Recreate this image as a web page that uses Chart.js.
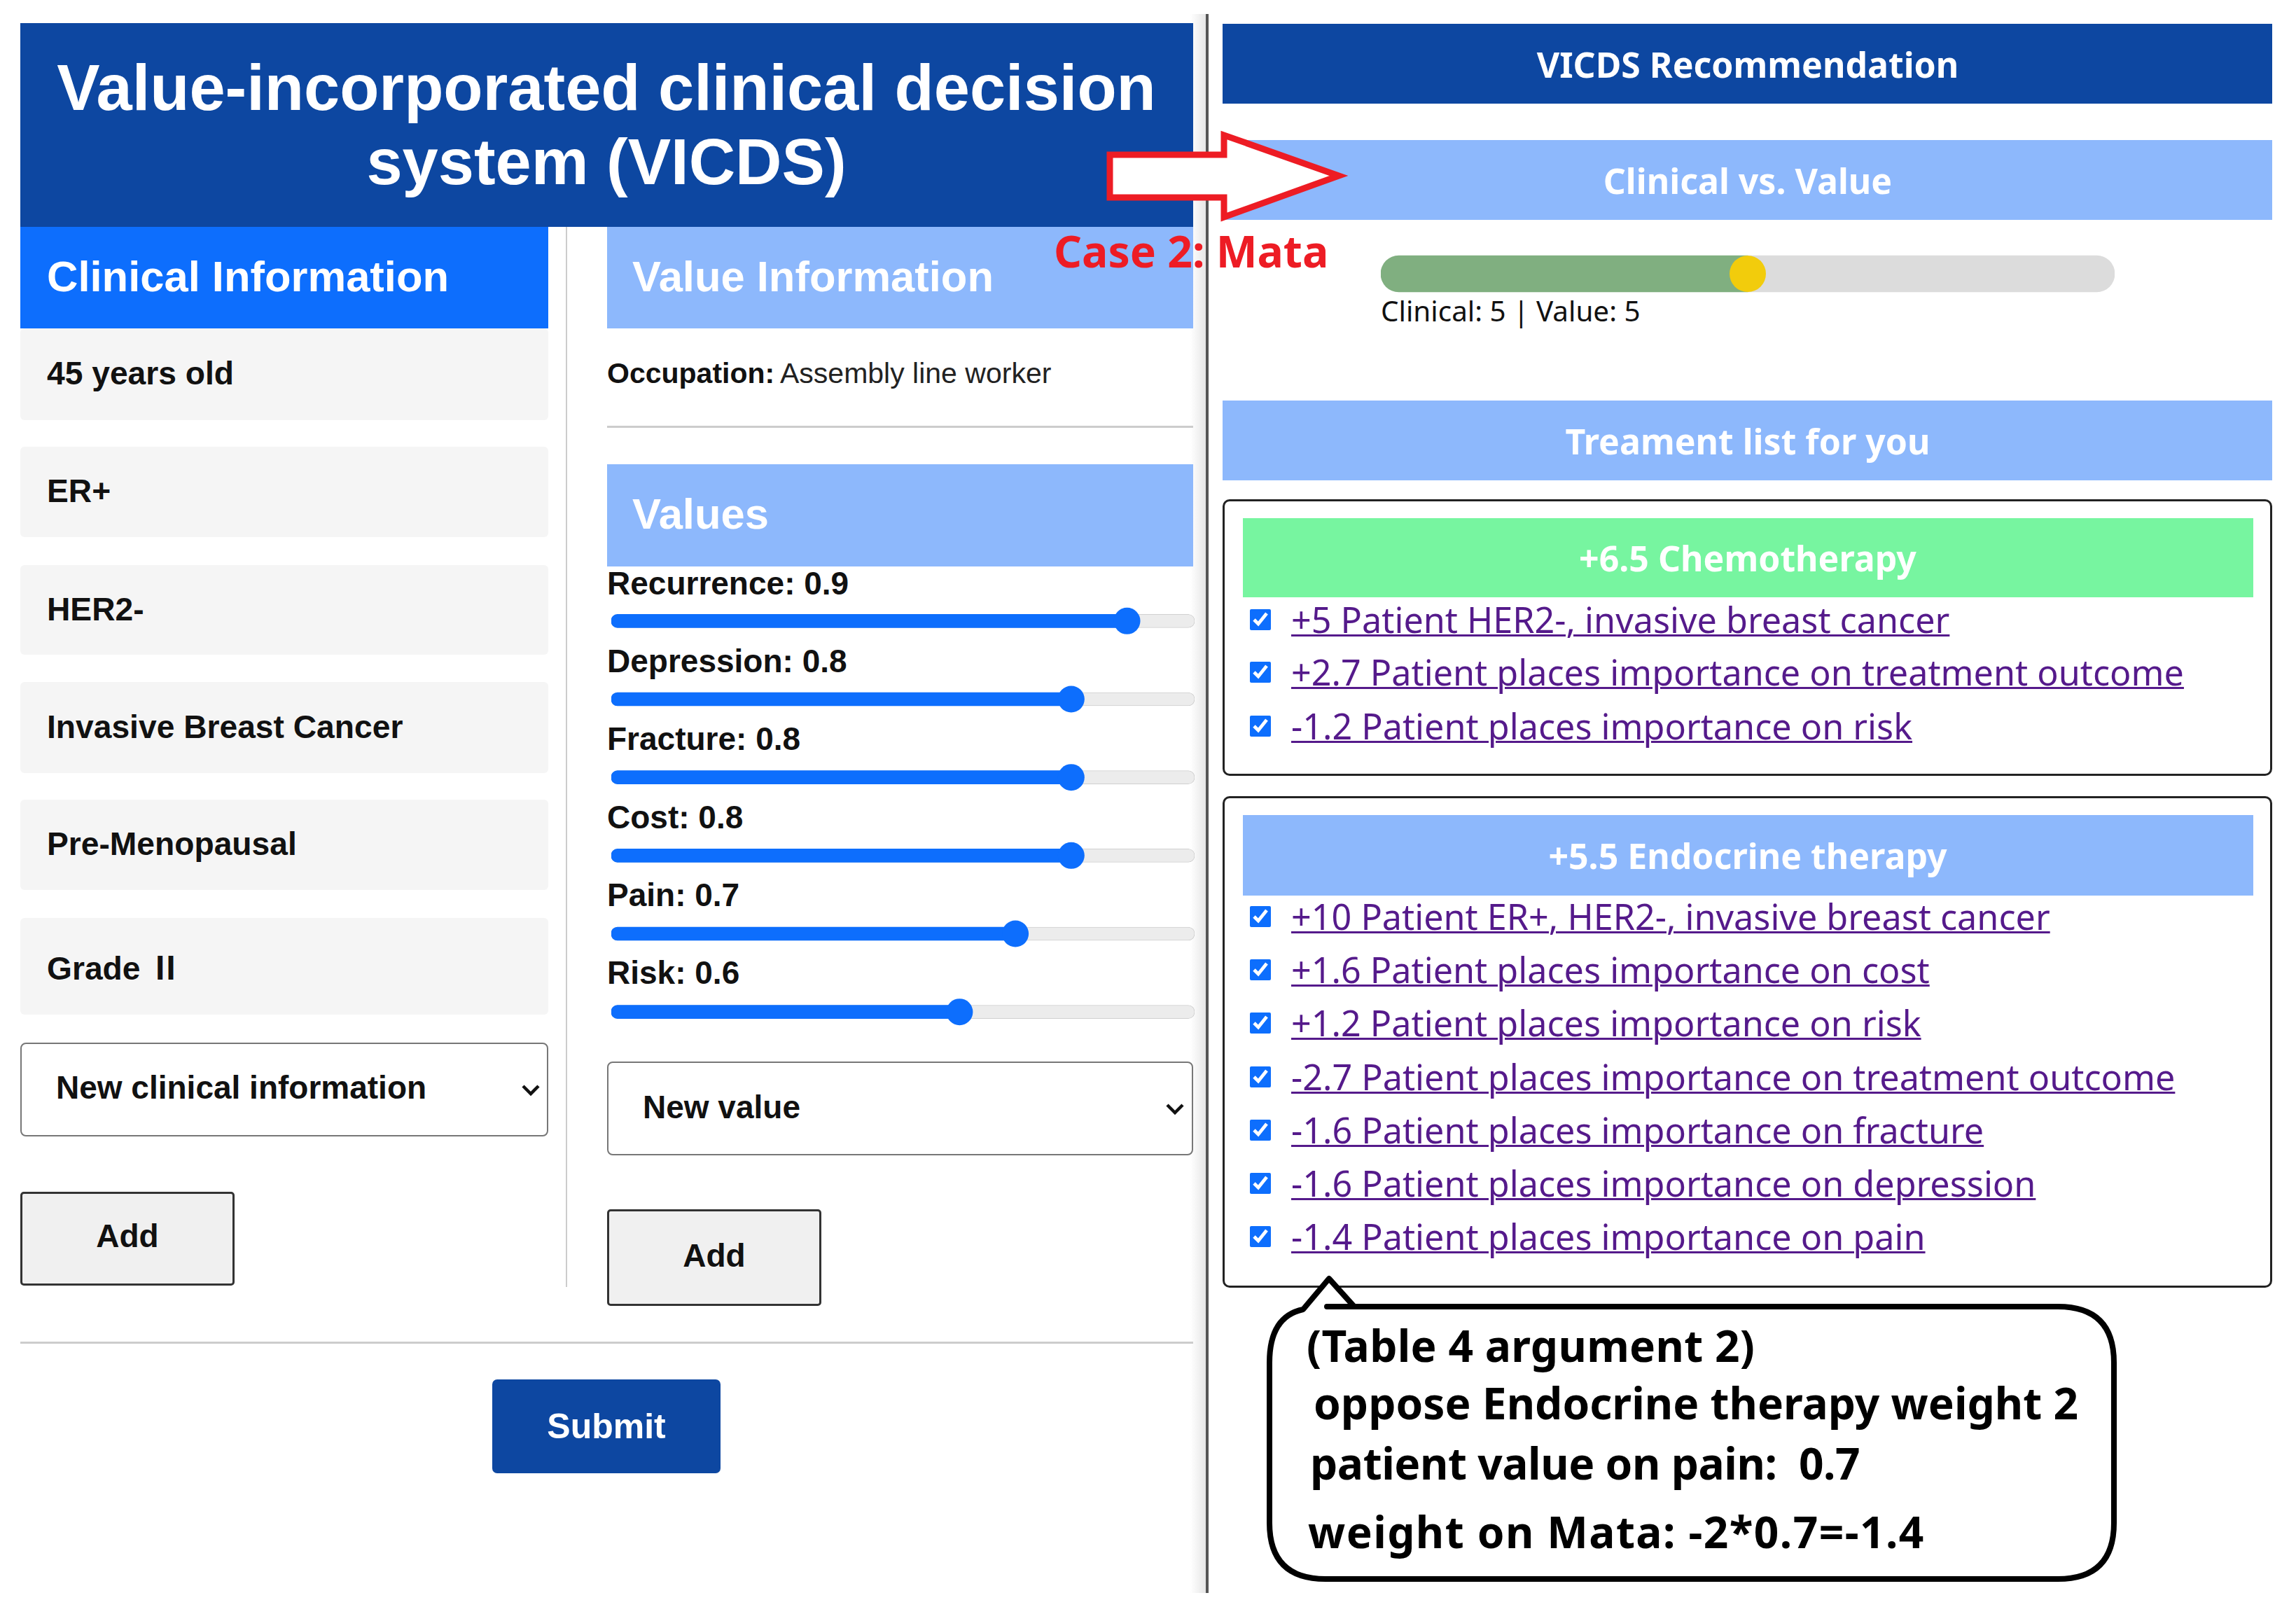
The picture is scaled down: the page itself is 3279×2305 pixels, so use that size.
<!DOCTYPE html>
<html>
<head>
<meta charset="utf-8">
<script src="https://cdn.jsdelivr.net/npm/chart.js@4"></script>
<style>
  html, body { margin: 0; padding: 0; background: #fff; }
  #page { position: relative; width: 3279px; height: 2305px; overflow: hidden; background: #fff; }
  .box, .t, canvas, svg, input { position: absolute; }
  .t { white-space: pre; }
  .sans { font-family: "Liberation Sans", Arial, sans-serif; font-weight: bold; }
  .ui { font-family: "Noto Sans", sans-serif; }
</style>
</head>
<body>
<div id="page"></div>
<script>
// 왼쪽 입력 패널
const clinicalItems = ['45 years old', 'ER+', 'HER2-', 'Invasive Breast Cancer', 'Pre-Menopausal', 'Grade Ⅱ'];
const valueNames = ['Recurrence', 'Depression', 'Fracture', 'Cost', 'Pain', 'Risk'];
const valueScores = [0.9, 0.8, 0.8, 0.8, 0.7, 0.6];

// 오른쪽 추천 패널
const clinicalScore = [5];
const valueScore = [5];
const chemoItems = [
  '+5 Patient HER2-, invasive breast cancer',
  '+2.7 Patient places importance on treatment outcome',
  '-1.2 Patient places importance on risk',
];
const endoItems = [
  '+10 Patient ER+, HER2-, invasive breast cancer',
  '+1.6 Patient places importance on cost',
  '+1.2 Patient places importance on risk',
  '-2.7 Patient places importance on treatment outcome',
  '-1.6 Patient places importance on fracture',
  '-1.6 Patient places importance on depression',
  '-1.4 Patient places importance on pain',
];
const calloutLines = [
  '(Table 4 argument 2)',
  'oppose Endocrine therapy weight 2',
  'patient value on pain:  0.7',
  'weight on Mata: -2*0.7=-1.4',
];

const page = document.getElementById('page');
const NAVY = '#0D47A1', BLUE = '#0D6EFD', PALE = '#8DB8FC';

function box(x, y, w, h, css) {
  const el = document.createElement('div');
  el.className = 'box';
  el.style.cssText = `left:${x}px;top:${y}px;width:${w}px;height:${h}px;box-sizing:border-box;${css || ''}`;
  page.appendChild(el);
  return el;
}

// cy = 글자 세로 중심, anchor가 center면 x는 가운데 좌표
function text(str, x, cy, size, cls, css, anchor) {
  const el = document.createElement('div');
  el.className = 't ' + cls;
  el.textContent = str;
  const shift = anchor === 'center' ? 'transform:translateX(-50%);' : '';
  el.style.cssText = `left:${x}px;top:${cy - size}px;height:${size * 2}px;line-height:${size * 2}px;font-size:${size}px;${shift}${css || ''}`;
  page.appendChild(el);
  return el;
}

function chevron(x, y) {
  page.insertAdjacentHTML('beforeend',
    `<svg style="left:${x - 14}px;top:${y - 10}px" width="28" height="20"><polyline points="3,4 14,15 25,4" fill="none" stroke="#111" stroke-width="4.5"/></svg>`);
}

// 패널 구분선
box(1700, 20, 22, 2255, 'background:linear-gradient(to right,#fff,#e6e6e6)');
box(1722, 20, 4, 2255, 'background:#555');
box(808, 324, 2, 1514, 'background:#ccc');

// 제목
box(29, 33, 1675, 291, `background:${NAVY}`);
text('Value-incorporated clinical decision', 866, 125, 92, 'sans', 'color:#fff', 'center');
text('system (VICDS)', 866, 231, 92, 'sans', 'color:#fff', 'center');

// Clinical Information
box(29, 324, 754, 145, `background:${BLUE}`);
text('Clinical Information', 67, 394, 61.5, 'sans', 'color:#fff');
const itemRows = [[469, 131], [638, 129], [807, 128], [974, 130], [1142, 129], [1311, 138]];
clinicalItems.forEach((item, i) => {
  const el = text(item, 67, itemRows[i][0] + itemRows[i][1] / 2 - 1, 46.2, 'sans', 'color:#111');
  el.innerHTML = item.replace('Ⅱ', '<span style="font-family:\'Noto Sans CJK SC\'">Ⅱ</span>');
  const bg = box(29, itemRows[i][0], 754, itemRows[i][1], 'background:#f5f5f5;border-radius:6px');
  page.insertBefore(bg, el);
});
box(29, 1489, 754, 134, 'border:2px solid #777;border-radius:8px');
text('New clinical information', 80, 1553, 46, 'sans', 'color:#111');
chevron(758, 1557);
box(29, 1702, 306, 134, 'background:#f0f0f0;border:3px solid #333;border-radius:5px');
text('Add', 182, 1765, 46, 'sans', 'color:#111', 'center');

// Value Information
box(867, 324, 837, 145, `background:${PALE}`);
text('Value Information', 903, 394, 61.5, 'sans', 'color:#fff');
text('Occupation:', 867, 533, 41, 'sans', 'color:#111');
text('Assembly line worker', 1114, 533, 41, 'sans', 'color:#222;font-weight:normal');
box(867, 608, 837, 3, 'background:#ccc');
box(867, 663, 837, 146, `background:${PALE}`);
text('Values', 903, 733, 61.5, 'sans', 'color:#fff');
const SLIDER_TOP = 831, SLIDER_ROW = 111.6;
valueNames.forEach((name, i) => {
  text(`${name}: ${valueScores[i].toFixed(1)}`, 867, 833 + i * 111.2, 46, 'sans', 'color:#111');
});
box(867, 1516, 837, 134, 'border:2px solid #777;border-radius:8px');
text('New value', 918, 1581, 46, 'sans', 'color:#111');
chevron(1678, 1584);
box(867, 1727, 306, 138, 'background:#f0f0f0;border:3px solid #333;border-radius:5px');
text('Add', 1020, 1793, 46, 'sans', 'color:#111', 'center');
box(29, 1916, 1675, 3, 'background:#ccc');
box(703, 1970, 326, 134, `background:${NAVY};border-radius:7px`);
text('Submit', 866, 2037, 50, 'sans', 'color:#fff', 'center');

// 오른쪽 헤더들
const BAND = 'font-weight:bold;color:#fff';
box(1746, 34, 1499, 114, `background:${NAVY}`);
text('VICDS Recommendation', 2496, 92, 50, 'ui', BAND, 'center');
box(1746, 200, 1499, 114, `background:${PALE}`);
text('Clinical vs. Value', 2496, 258, 50, 'ui', BAND, 'center');
box(1746, 572, 1499, 114, `background:${PALE}`);
text('Treament list for you', 2496, 630, 50, 'ui', BAND, 'center');
text('Clinical: 5 | Value: 5', 1972, 444, 40.4, 'ui', 'color:#111');

// 치료 목록
function treatment(top, height, bandH, color, title, items, rows) {
  box(1746, top, 1499, height, 'border:3px solid #222;border-radius:10px');
  box(1775, top + 27, 1443, bandH, `background:${color}`);
  text(title, 2496, top + 27 + bandH / 2, 50, 'ui', BAND, 'center');
  items.forEach((item, i) => {
    const cb = document.createElement('input');
    cb.type = 'checkbox';
    cb.checked = true;
    cb.style.cssText = `left:1785px;top:${rows[i] - 15}px;width:30px;height:30px;margin:0;accent-color:#0D6EFD`;
    page.appendChild(cb);
    text(item, 1844, rows[i], 50.3, 'ui', 'color:#551A8B;text-decoration:underline;text-decoration-thickness:3px');
  });
}
treatment(713, 395, 113, '#77F5A0', '+6.5 Chemotherapy', chemoItems, [885, 960, 1037]);
treatment(1137, 702, 115, PALE, '+5.5 Endocrine therapy', endoItems, [1309, 1385, 1461, 1538, 1614, 1690, 1766]);

// 말풍선과 화살표
page.insertAdjacentHTML('beforeend', `
<svg style="left:0;top:0" width="3279" height="2305">
  <path d="M1895 1866 H2939 Q3019 1866 3019 1946 V2175 Q3019 2255 2939 2255 H1893 Q1813 2255 1813 2175 V1946 Q1813 1880 1861 1870 L1898 1826 L1934 1866 Z"
        fill="#fff" stroke="#000" stroke-width="8" stroke-linejoin="round"/>
  <polygon points="1585,221 1748,221 1748,193 1912,251 1748,310 1748,282 1585,282"
        fill="#fff" stroke="#ED1C24" stroke-width="9"/>
</svg>`);
const calloutPos = [[1866, 1921], [1876, 2003], [1871, 2089], [1868, 2187]];
const calloutSpacing = [0.3, 0, -0.45, 1.4];
calloutLines.forEach((line, i) => {
  text(line, calloutPos[i][0], calloutPos[i][1], 62.2, 'ui', `color:#000;font-weight:bold;letter-spacing:${calloutSpacing[i]}px`);
});
text('Case 2: Mata', 1505, 358, 62.4, 'ui', 'color:#ED1C24;font-weight:bold');

function addCanvas(x, y, w, h) {
  const c = document.createElement('canvas');
  c.width = w;
  c.height = h;
  c.style.cssText = `left:${x}px;top:${y}px;width:${w}px;height:${h}px`;
  page.appendChild(c);
  return c;
}

const baseOptions = (min, max) => ({
  indexAxis: 'y',
  responsive: false,
  animation: false,
  layout: { padding: 0, autoPadding: false },
  plugins: { legend: { display: false }, tooltip: { enabled: false } },
  scales: {
    x: { display: false, min, max },
    y: { display: false },
  },
});

// 슬라이더: thumb 반지름만큼 양쪽 여백이 있어 축이 0~1보다 조금 넓음
const SLIDER_MIN = -0.024, SLIDER_MAX = 1.021;
new Chart(addCanvas(873, SLIDER_TOP, 833, Math.round(SLIDER_ROW * 6)), {
  data: {
    labels: valueNames,
    datasets: [
      { type: 'line', indexAxis: 'y', data: valueScores, showLine: false, pointRadius: 19, pointBackgroundColor: BLUE, pointBorderWidth: 0, order: 0 },
      { type: 'bar', data: valueScores, base: SLIDER_MIN, grouped: false, barThickness: 19, backgroundColor: BLUE, borderRadius: 9, borderSkipped: false, order: 1 },
      { type: 'bar', data: valueScores.map(() => SLIDER_MAX), base: SLIDER_MIN, grouped: false, barThickness: 19, backgroundColor: '#ececec', borderColor: '#d0d0d0', borderWidth: 1, borderRadius: 9, borderSkipped: false, order: 2 },
    ],
  },
  options: baseOptions(SLIDER_MIN, SLIDER_MAX),
});

// Clinical vs. Value 막대
const total = clinicalScore[0] + valueScore[0];
new Chart(addCanvas(1972, 360, 1048, 62), {
  data: {
    labels: ['balance'],
    datasets: [
      { type: 'line', indexAxis: 'y', data: clinicalScore, showLine: false, pointRadius: 26, pointBackgroundColor: '#F2CC0C', pointBorderWidth: 0, order: 0 },
      { type: 'bar', data: [[0, clinicalScore[0]]], grouped: false, barThickness: 52, backgroundColor: '#80AF80', borderRadius: { topLeft: 26, bottomLeft: 26 }, borderSkipped: false, order: 1 },
      { type: 'bar', data: [[clinicalScore[0], total]], grouped: false, barThickness: 52, backgroundColor: '#DCDCDC', borderRadius: { topRight: 26, bottomRight: 26 }, borderSkipped: false, order: 2 },
    ],
  },
  options: baseOptions(0, total),
});
</script>
</body>
</html>
